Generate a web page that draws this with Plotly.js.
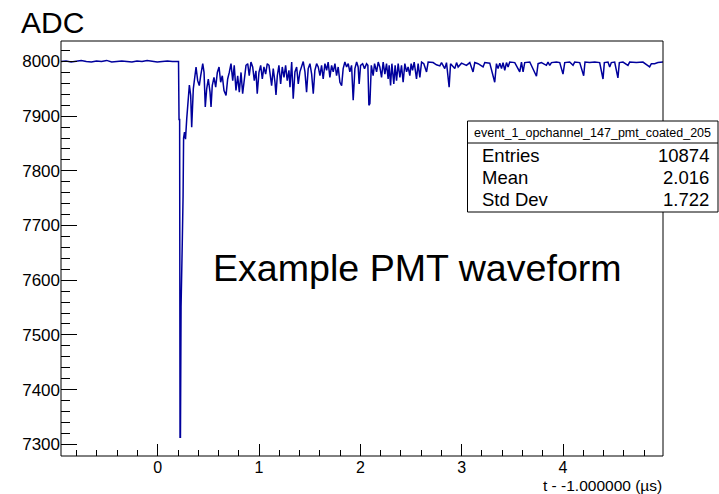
<!DOCTYPE html>
<html>
<head>
<meta charset="utf-8">
<script src="https://cdn.plot.ly/plotly-3.0.1.min.js"></script>
<style>
  html, body { margin: 0; padding: 0; background: #ffffff; }
  #chart { width: 719px; height: 494px; }
</style>
</head>
<body>
<div id="chart"></div>
<script>
// ---------------- data ----------------
// pre-trigger baseline
const baseT = [-0.955, -0.905, -0.855, -0.805, -0.755, -0.705, -0.655, -0.605, -0.555, -0.505,
  -0.455, -0.405, -0.355, -0.305, -0.255, -0.205, -0.155, -0.105, -0.055, -0.005,
  0.045, 0.095, 0.145, 0.195];
const baseADC = [8000, 8001, 7999, 8000, 8002, 8000, 7999, 8001, 8000, 8002,
  7999, 8000, 8001, 8000, 7999, 8001, 8000, 8002, 8000, 7999,
  8000, 8001, 8000, 8000];

// main pulse and early recovery
const pulseT = [0.205, 0.210, 0.216, 0.220, 0.224, 0.230, 0.236, 0.242, 0.250, 0.255,
  0.264, 0.274, 0.286, 0.302, 0.312, 0.325, 0.335, 0.351, 0.368, 0.378,
  0.394, 0.410, 0.424, 0.444, 0.457, 0.469, 0.483, 0.499, 0.516, 0.526,
  0.538, 0.555, 0.572, 0.588, 0.605, 0.621, 0.637, 0.654, 0.674, 0.690,
  0.706, 0.723, 0.740, 0.755, 0.772, 0.789, 0.805, 0.822, 0.838, 0.854,
  0.871, 0.888, 0.903, 0.920, 0.937, 0.953, 0.969, 0.982, 0.999, 1.016,
  1.032, 1.048, 1.065, 1.081, 1.098];
const pulseADC = [8000, 7894, 7894, 7313, 7313, 7551, 7668, 7668, 7754, 7860,
  7871, 7858, 7895, 7926, 7957, 7938, 7880, 7950, 7980, 7990,
  7965, 7956, 7974, 7996, 7980, 7917, 7950, 7968, 7944, 7917,
  7956, 7971, 7953, 7980, 7990, 7962, 7974, 7947, 7938, 7968,
  7980, 7996, 7965, 7993, 7947, 7974, 7944, 7980, 7941, 7971,
  7993, 7996, 7974, 7999, 7990, 7965, 7983, 7941, 7980, 7993,
  7968, 7990, 7977, 7996, 7993];

// afterpulse tail, part 1
const tail1T = [1.124, 1.140, 1.157, 1.167, 1.180, 1.196, 1.213, 1.229, 1.246, 1.262,
  1.278, 1.295, 1.305, 1.322, 1.337, 1.354, 1.371, 1.387, 1.403, 1.420,
  1.436, 1.453, 1.469, 1.485, 1.502, 1.519, 1.535, 1.551, 1.568, 1.584,
  1.601, 1.617, 1.633, 1.650, 1.667, 1.682, 1.699, 1.716, 1.732, 1.749,
  1.765, 1.781, 1.798, 1.815, 1.830, 1.847, 1.864, 1.880, 1.896, 1.913,
  1.929, 1.946, 1.963, 1.978, 1.988, 2.002, 2.022, 2.041, 2.061, 2.074,
  2.084, 2.094, 2.108];
const tail1ADC = [7956, 7987, 7962, 7939, 7974, 7993, 7959, 7990, 7971, 7993,
  7965, 7984, 7953, 7999, 7932, 7981, 7990, 7959, 7981, 7993,
  8000, 7981, 7944, 7987, 7996, 7977, 7941, 7984, 7996, 7990,
  7974, 7993, 7968, 7996, 7984, 7999, 7971, 7993, 7981, 7996,
  7974, 7990, 7962, 7956, 7987, 7999, 7990, 7996, 7981, 7993,
  7929, 7987, 7999, 7990, 7959, 7993, 7996, 7987, 7996, 7993,
  7920, 7923, 7993];

// afterpulse tail, part 2
const tail2T = [2.126, 2.140, 2.160, 2.176, 2.192, 2.209, 2.225, 2.242, 2.258, 2.274,
  2.284, 2.298, 2.311, 2.330, 2.343, 2.357, 2.373, 2.390, 2.406, 2.422,
  2.439, 2.456, 2.471, 2.488, 2.501, 2.515, 2.531, 2.554, 2.570, 2.587,
  2.604, 2.626, 2.653, 2.669, 2.718, 2.751, 2.784, 2.801, 2.833, 2.850,
  2.876, 2.890, 2.932, 2.949, 2.965, 2.998, 3.047, 3.080];
const tail2ADC = [7974, 7996, 7981, 7999, 7990, 7971, 7999, 7977, 7996, 7968,
  7993, 7956, 7996, 7959, 7993, 7965, 7996, 7971, 7993, 7962,
  7996, 7981, 7990, 7974, 7996, 7984, 7999, 7968, 7996, 7971,
  7999, 7996, 7981, 7999, 7998, 7994, 7992, 7998, 7987, 7998,
  7953, 7996, 7987, 7998, 7990, 7997, 7993, 7998];

// late tail
const tail3T = [3.112, 3.129, 3.162, 3.211, 3.228, 3.277, 3.326, 3.343, 3.359, 3.376,
  3.393, 3.408, 3.425, 3.442, 3.458, 3.474, 3.524, 3.573, 3.590, 3.606,
  3.622, 3.672, 3.738, 3.754, 3.787, 3.836, 3.852, 3.869, 3.886, 3.935,
  3.968, 4.000, 4.017, 4.066, 4.099, 4.115, 4.165, 4.204, 4.217, 4.263,
  4.313, 4.362, 4.395, 4.408, 4.444, 4.461, 4.477, 4.510, 4.542, 4.556,
  4.592, 4.641, 4.658, 4.724, 4.789, 4.855, 4.872, 4.904, 4.937, 4.970,
  4.990];
const tail3ADC = [7981, 7998, 7996, 7990, 7998, 7997, 7962, 7996, 7987, 7997,
  7987, 7998, 7984, 7998, 7990, 7999, 7998, 7981, 7999, 7981,
  7998, 7999, 7973, 7996, 7998, 7993, 7999, 7993, 7998, 7999,
  7998, 7977, 7998, 7999, 7993, 7999, 7998, 7974, 7999, 7998,
  7999, 7998, 7968, 7998, 7999, 7990, 7998, 7999, 7970, 7998,
  7999, 7993, 7999, 7998, 7999, 7990, 7996, 7996, 7998, 7999,
  7999];

// text content
const histName = "event_1_opchannel_147_pmt_coated_205";
const statLabels = ["Entries", "Mean", "Std Dev"];
const statValues = ["10874", "2.016", "1.722"];
const yTitle = "ADC";
const xTitle = "t - -1.000000 (\u00b5s)";
const noteText = "Example PMT waveform";
const xRange = [-0.955, 4.987];
const yRange = [7278.5, 8037.5];

// ---------------- assemble ----------------
function join(pairs) {
  const t = [], a = [];
  pairs.forEach(([ts, as]) => {
    const n = Math.min(ts.length, as.length);
    for (let i = 0; i < n; i++) { t.push(ts[i]); a.push(as[i]); }
  });
  return [t, a];
}
const [allT, allADC] = join([[baseT, baseADC], [pulseT, pulseADC], [tail1T, tail1ADC],
  [tail2T, tail2ADC], [tail3T, tail3ADC]]);

// layout geometry in pixels
const L = 61, R = 663, T = 41, B = 456, W = 719, H = 494;
const px = X => (X - L) / (R - L);
const py = Y => (B - Y) / (B - T);
const FONT = "Liberation Sans, Arial, Helvetica, sans-serif";

const trace = {
  x: allT, y: allADC, type: "scatter", mode: "lines",
  line: { color: "#00009c", width: 1.5 },
  hoverinfo: "skip"
};

const annotations = [
  { text: yTitle, x: px(20), y: py(22.5), xanchor: "left", yanchor: "middle",
    font: { size: 30, color: "#000", family: FONT } },
  { text: xTitle, x: px(663), y: py(485.3), xanchor: "right", yanchor: "middle",
    font: { size: 15.5, color: "#000", family: FONT } },
  { text: noteText, x: px(212), y: py(268), xanchor: "left", yanchor: "middle",
    font: { size: 37.6, color: "#000", family: FONT } },
  { text: histName, x: px(592.5), y: py(133), xanchor: "center", yanchor: "middle",
    font: { size: 12.5, color: "#000", family: FONT } }
];
const rowY = [155, 177.5, 200];
statLabels.forEach((lab, i) => {
  annotations.push({ text: lab, x: px(481), y: py(rowY[i]), xanchor: "left", yanchor: "middle",
    font: { size: 18.5, color: "#000", family: FONT } });
  annotations.push({ text: statValues[i], x: px(710), y: py(rowY[i]), xanchor: "right", yanchor: "middle",
    font: { size: 18.5, color: "#000", family: FONT } });
});
annotations.forEach(a => { a.xref = "paper"; a.yref = "paper"; a.showarrow = false; a.borderpad = 0; });

const shapes = [
  { type: "rect", xref: "paper", yref: "paper", x0: 0, x1: 1, y0: 0, y1: 1,
    line: { color: "#000", width: 1 }, fillcolor: "rgba(0,0,0,0)", layer: "above" },
  { type: "rect", xref: "paper", yref: "paper", x0: px(467.5), x1: px(718), y0: py(212), y1: py(121),
    line: { color: "#000", width: 1 }, fillcolor: "#ffffff", layer: "above" },
  { type: "line", xref: "paper", yref: "paper", x0: px(467.5), x1: px(718), y0: py(143), y1: py(143),
    line: { color: "#000", width: 1 }, layer: "above" }
];

const layout = {
  width: W, height: H,
  margin: { l: L, r: W - R, t: T, b: H - B, pad: 0 },
  paper_bgcolor: "#ffffff", plot_bgcolor: "#ffffff",
  showlegend: false,
  font: { family: FONT, color: "#000", size: 17 },
  xaxis: {
    range: xRange, tick0: 0, dtick: 1, ticks: "inside", ticklen: 12, tickwidth: 1, tickcolor: "#000",
    showgrid: false, zeroline: false, showline: false,
    tickfont: { size: 16, family: FONT, color: "#000" },
    minor: { ticks: "inside", ticklen: 6, dtick: 0.2, tick0: 0, tickcolor: "#000", tickwidth: 1, showgrid: false }
  },
  yaxis: {
    range: yRange, tick0: 7300, dtick: 100, ticks: "inside", ticklen: 16, tickwidth: 1, tickcolor: "#000",
    showgrid: false, zeroline: false, showline: false,
    tickfont: { size: 17, family: FONT, color: "#000" },
    minor: { ticks: "inside", ticklen: 9, dtick: 20, tick0: 7300, tickcolor: "#000", tickwidth: 1, showgrid: false }
  },
  shapes: shapes,
  annotations: annotations
};

Plotly.newPlot("chart", [trace], layout, { staticPlot: true, displayModeBar: false });
</script>
</body>
</html>
